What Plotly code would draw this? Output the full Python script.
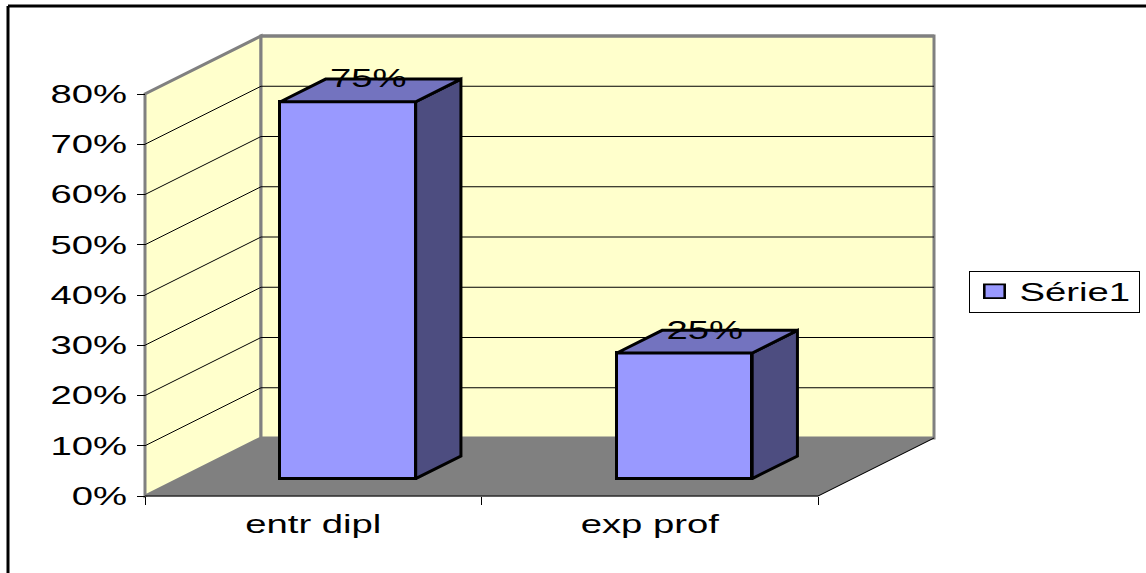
import plotly.graph_objects as go

categories = ["entr dipl", "exp prof"]
values = [75, 25]
series_name = "Série1"
y_ticks = [0, 10, 20, 30, 40, 50, 60, 70, 80]
y_labels = ["0%", "10%", "20%", "30%", "40%", "50%", "60%", "70%", "80%"]
value_labels = ["75%", "25%"]

W, H = 1146, 573
PX_X0, PX_X2 = 145.0, 818.0
PX_Y0, PX_Y80 = 496.0, 94.0
UX = (PX_X2 - PX_X0) / 2
UY = (PX_Y0 - PX_Y80) / 80
DX, DY = 116 / UX, 58 / UY      # wall depth, in axis units
Y_MAX = y_ticks[-1]
N = len(categories)
BAR_W = 0.402
Z_FRONT, Z_BACK = 0.30, 0.69    # bar front and back depth, fraction of the floor depth

FONT = "Liberation Sans"
FONT_SIZE = 25
WALL, FLOOR = "#FFFFCC", "#808080"
FACE, TOP, SIDE = "#9999FF", "#7373BF", "#4D4D80"
TEXT_STRETCH = 1.53


def path(pts):
    return "M " + " L ".join(f"{a},{b}" for a, b in pts) + " Z"


def seg(x0, y0, x1, y1, color="black", width=1):
    return dict(type="line", xref="x", yref="y", layer="below", x0=x0, y0=y0, x1=x1, y1=y1,
                line=dict(color=color, width=width))


shapes = [
    dict(type="path", xref="x", yref="y", layer="below",
         path=path([(0, 0), (DX, DY), (DX, Y_MAX + DY), (0, Y_MAX)]),
         fillcolor=WALL, line=dict(color="#808080", width=3)),
    dict(type="path", xref="x", yref="y", layer="below",
         path=path([(DX, DY), (N + DX, DY), (N + DX, Y_MAX + DY), (DX, Y_MAX + DY)]),
         fillcolor=WALL, line=dict(color="#808080", width=3)),
    dict(type="path", xref="x", yref="y", layer="below",
         path=path([(0, 0), (N, 0), (N + DX, DY), (DX, DY)]),
         fillcolor=FLOOR, line=dict(color="#808080", width=1)),
]
for t in y_ticks[1:-1]:
    shapes.append(seg(0, t, DX, t + DY))
    shapes.append(seg(DX, t + DY, N + DX, t + DY))
shapes.append(seg(DX, Y_MAX + DY, N + DX, Y_MAX + DY, "#808080", 3))
shapes.append(seg(0, 0, N, 0))
shapes.append(seg(N, 0, N + DX, DY))
# outer frame
shapes.append(dict(type="line", xref="paper", yref="paper", x0=8 / W, y0=1 - 6 / H, x1=1, y1=1 - 6 / H,
                   line=dict(color="black", width=3)))
shapes.append(dict(type="line", xref="paper", yref="paper", x0=8 / W, y0=1 - 6 / H, x1=8 / W, y1=0,
                   line=dict(color="black", width=3)))

fig = go.Figure()

centers = [i + 0.5 for i in range(N)]
sx, sy = Z_FRONT * DX, Z_FRONT * DY
ox, oy = (Z_BACK - Z_FRONT) * DX, (Z_BACK - Z_FRONT) * DY

fig.add_trace(go.Bar(
    x=[c + sx for c in centers], y=values, base=[sy] * N, width=BAR_W, name=series_name,
    marker=dict(color=FACE, line=dict(color="black", width=3)), showlegend=True,
))

for c, v in zip(centers, values):
    l, r = c + sx - BAR_W / 2, c + sx + BAR_W / 2
    top = v + sy
    fig.add_trace(go.Scatter(
        x=[r, r + ox, r + ox, r, r], y=[sy, sy + oy, top + oy, top, sy], mode="lines", fill="toself",
        fillcolor=SIDE, line=dict(color="black", width=3), showlegend=False, hoverinfo="skip"))
    fig.add_trace(go.Scatter(
        x=[l, r, r + ox, l + ox, l], y=[top, top, top + oy, top + oy, top], mode="lines", fill="toself",
        fillcolor=TOP, line=dict(color="black", width=3), showlegend=False, hoverinfo="skip"))

fig.add_trace(go.Scatter(
    x=[c + sx + ox / 2 - 2.4 / UX for c in centers], y=[v + sy + oy - 2 / UY for v in values], mode="text",
    text=value_labels, textposition="middle center", textfont=dict(family=FONT, size=FONT_SIZE, color="black"),
    showlegend=False, hoverinfo="skip"))

x_left = -PX_X0 / UX
x_right = (W - PX_X0) / UX
y_bottom = (PX_Y0 - H) / UY
y_top = PX_Y0 / UY

fig.update_layout(
    width=W, height=H, margin=dict(l=0, r=0, t=0, b=0), autosize=False,
    paper_bgcolor="white", plot_bgcolor="white", shapes=shapes,
    font=dict(family=FONT, size=FONT_SIZE, color="black"),
    xaxis=dict(range=[x_left, x_right], domain=[0, 1], anchor="free", position=1 - PX_Y0 / H,
               tickmode="array", tickvals=centers, ticktext=categories, ticks="", ticklen=0,
               ticklabelstandoff=11, showgrid=False, zeroline=False, showline=False, fixedrange=True,
               tickfont=dict(family=FONT, size=FONT_SIZE)),
    xaxis2=dict(range=[x_left, x_right], domain=[0, 1], anchor="free", position=1 - PX_Y0 / H, overlaying="x",
                tickmode="array", tickvals=list(range(N + 1)), ticktext=[""] * (N + 1), ticks="outside", ticklen=8,
                tickcolor="black", tickwidth=1, showgrid=False, zeroline=False, showline=False, fixedrange=True),
    yaxis=dict(range=[y_bottom, y_top], domain=[0, 1], anchor="free", position=PX_X0 / W,
               tickmode="array", tickvals=y_ticks, ticktext=y_labels, ticks="outside", ticklen=8,
               ticklabelstandoff=5, tickcolor="black", tickwidth=1, showgrid=False, zeroline=False,
               showline=False, fixedrange=True, tickfont=dict(family=FONT, size=FONT_SIZE)),
    legend=dict(orientation="h", x=968.5 / W, y=1 - 291.5 / H, xanchor="left", yanchor="middle", bgcolor="white",
                bordercolor="black", borderwidth=1, font=dict(family=FONT, size=FONT_SIZE),
                itemwidth=40, entrywidth=114, entrywidthmode="pixels"),
    bargap=0,
)
# invisible trace keeps the tick-only x axis alive
fig.add_trace(go.Scatter(x=[0], y=[0], xaxis="x2", yaxis="y", mode="markers", marker=dict(opacity=0),
                         showlegend=False, hoverinfo="skip"))

# The reference's text is horizontally stretched; it stays real text, only widened.
post = """
document.body.style.margin = '0';
var gd = document.getElementById('{plot_id}');
gd.querySelectorAll('.xtick text, .ytick text, .textpoint text, .legendtext').forEach(function (t) {
  var w = t.getComputedTextLength();
  if (w > 0) {
    t.setAttribute('textLength', w * %s);
    t.setAttribute('lengthAdjust', 'spacingAndGlyphs');
  }
});
gd.querySelectorAll('.legendpoints path').forEach(function (p) {
  p.setAttribute('transform', (p.getAttribute('transform') || '') + ' scale(1.7,1.15)');
  p.style.strokeWidth = '1.5px';
});
var bg = gd.querySelector('.legend rect.bg');
if (bg) {
  var h = parseFloat(bg.getAttribute('height'));
  bg.setAttribute('y', (parseFloat(bg.getAttribute('y')) || 0) + (h - 41) / 2);
  bg.setAttribute('height', 41);
}
""" % TEXT_STRETCH

fig.write_html("out.html", config=dict(displayModeBar=False), post_script=post)
